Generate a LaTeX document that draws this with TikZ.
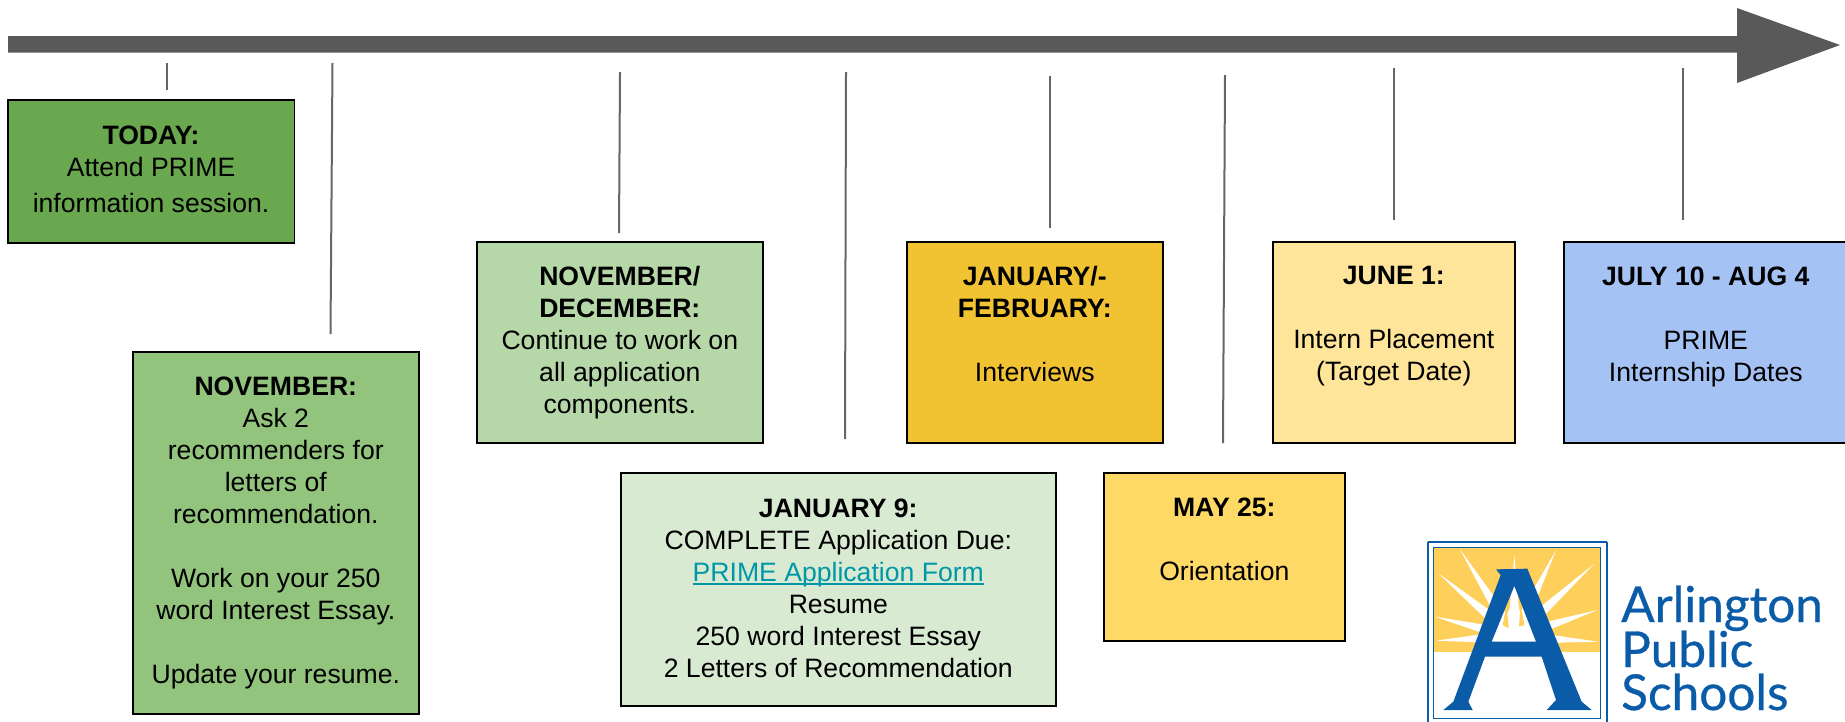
\documentclass[tikz,border=0pt]{standalone}
\usepackage{fontspec}
\setmainfont{Liberation Sans}
\newfontfamily\logofont{Lato}[FakeBold=0.6]
\usetikzlibrary{calc}
\definecolor{arrowgrey}{HTML}{595959}
\definecolor{tickgrey}{HTML}{666666}
\definecolor{linkteal}{HTML}{0097A7}
\definecolor{logoblue}{HTML}{0B5CA8}
\definecolor{logosun}{HTML}{FFCF5C}
\definecolor{cToday}{HTML}{6AA84F}
\definecolor{cNov}{HTML}{93C47D}
\definecolor{cNovDec}{HTML}{B6D7A8}
\definecolor{cJanNine}{HTML}{D9EAD3}
\definecolor{cJanFeb}{HTML}{F1C232}
\definecolor{cMay}{HTML}{FFD966}
\definecolor{cJune}{HTML}{FFE599}
\definecolor{cJuly}{HTML}{A4C2F4}
\tikzset{
  x=1pt,y=-1pt,
  card/.style={draw=black,line width=1.6pt,anchor=north west,inner sep=0pt,align=center,
    font=\fontsize{26.6}{32}\selectfont},
  tick/.style={draw=tickgrey,line width=2pt},
  logotext/.style={anchor=base west,inner sep=0pt,text=logoblue,font=\logofont\fontsize{49.5}{49.5}\selectfont},
}
\newlength{\ullen}
\newcommand{\thickul}[1]{\settowidth{\ullen}{#1}\rlap{\rule[-3.5pt]{\ullen}{1.9pt}}#1}
\newcommand{\cardnode}[7]{%
  \node[card,fill=#3,minimum width=#6 pt,minimum height=#7 pt] (#1) at (#4,#5) {#2};}
\begin{document}
\begin{tikzpicture}
\useasboundingbox (0,0) rectangle (1845,721);
% timeline arrow
\fill[arrowgrey] (8,36) -- (1737,36) -- (1737,8) -- (1840,45) -- (1737,83) -- (1737,52.5) -- (8,52.5) -- cycle;
% cards
\cardnode{today}{\textbf{TODAY:}\\Attend PRIME\\[4pt]information session.\rule[-5pt]{0pt}{1pt}}{cToday}{7}{99}{286.5}{143}
\cardnode{nov}{\textbf{NOVEMBER:}\\Ask 2\\recommenders for\\letters of\\recommendation.\\\strut\\Work on your 250\\word Interest Essay.\\\strut\\Update your resume.}{cNov}{132}{351}{286}{362}
\cardnode{novdec}{\textbf{NOVEMBER/}\\\textbf{DECEMBER:}\\Continue to work on\\all application\\components.}{cNovDec}{476}{241}{286}{201}
\cardnode{jannine}{\textbf{JANUARY 9:}\\COMPLETE Application Due:\\\textcolor{linkteal}{\thickul{PRIME Application Form}}\\Resume\\250 word Interest Essay\\2 Letters of Recommendation\rule[-2pt]{0pt}{1pt}}{cJanNine}{620}{472}{435}{233}
\cardnode{janfeb}{\textbf{JANUARY/-}\\\textbf{FEBRUARY:}\\\strut\\Interviews\\[-4.6pt]\strut}{cJanFeb}{906}{241}{256}{201}
\cardnode{may}{\textbf{MAY 25:}\\\strut\\Orientation\\[-7pt]\strut}{cMay}{1103}{472}{241}{168}
\cardnode{june}{\textbf{JUNE 1:}\\\strut\\Intern Placement\\(Target Date)\\[-4.6pt]\strut}{cJune}{1272}{241}{242}{201}
\cardnode{july}{\textbf{JULY 10 - AUG 4}\\\strut\\PRIME\\Internship Dates\\[-4.6pt]\strut}{cJuly}{1563}{241}{284}{201}
% ticks
\coordinate (t1a) at (167,63);    \coordinate (t1b) at (167,90);
\coordinate (t2a) at (332.5,63);  \coordinate (t2b) at (330.5,334);
\coordinate (t3a) at (620,72);    \coordinate (t3b) at (619,233);
\coordinate (t4a) at (846,72);    \coordinate (t4b) at (845,439);
\coordinate (t5a) at (1050,76);   \coordinate (t5b) at (1050,228);
\coordinate (t6a) at (1225,75);   \coordinate (t6b) at (1223,443);
\coordinate (t7a) at (1394,68);   \coordinate (t7b) at (1394,220);
\coordinate (t8a) at (1683,68);   \coordinate (t8b) at (1683,220);
\foreach \n in {1,...,8} \draw[tick] (t\n a) -- (t\n b);
% logo
\begin{scope}[shift={(1400,520)},x=0.33333pt,y=-0.33333pt]
  \coordinate (C) at (343,350);
  \fill[logosun] (103,84) rectangle (600,396);
  \foreach \tx/\ty in {180/88,115/160,105/290,108/362,343/105,468/90,582/132,592/270,595/365}{
    \coordinate (T) at (\tx,\ty);
    \fill[white] (T) -- ($(C)!7pt!90:(T)$) -- ($(C)!7pt!-90:(T)$) -- cycle;
  }
  \fill[white] (270,365) -- (300,320) -- (343,240) -- (385,320) -- (410,365) -- cycle;
  \fill[logosun] (308,315) -- (320,255) -- (326,325) -- cycle;
  \fill[logosun] (357,320) -- (362,255) -- (373,315) -- cycle;
  \draw[logoblue,line width=1.8pt] (83,66) -- (620,66) (83,66) -- (83,730) (620,66) -- (620,730);
  \draw[logoblue,line width=1pt] (100,83) rectangle (602,596);
  \fill[logoblue,even odd rule]
    (288,148) -- (382,146) -- (545,545) -- (575,570) -- (440,570) -- (468,540) -- (425,410) -- (255,410)
    -- (205,545) -- (218,570) -- (130,570) -- (160,545) -- (302,165) -- cycle
    (343,198) -- (408,365) -- (275,365) -- cycle;
\end{scope}
\node[logotext] (logoA) at (1621,622) {Arlington};
\node[logotext] (logoP) at (1621,667) {Public};
\node[logotext] (logoS) at (1621,710) {Schools};
\end{tikzpicture}
\end{document}
